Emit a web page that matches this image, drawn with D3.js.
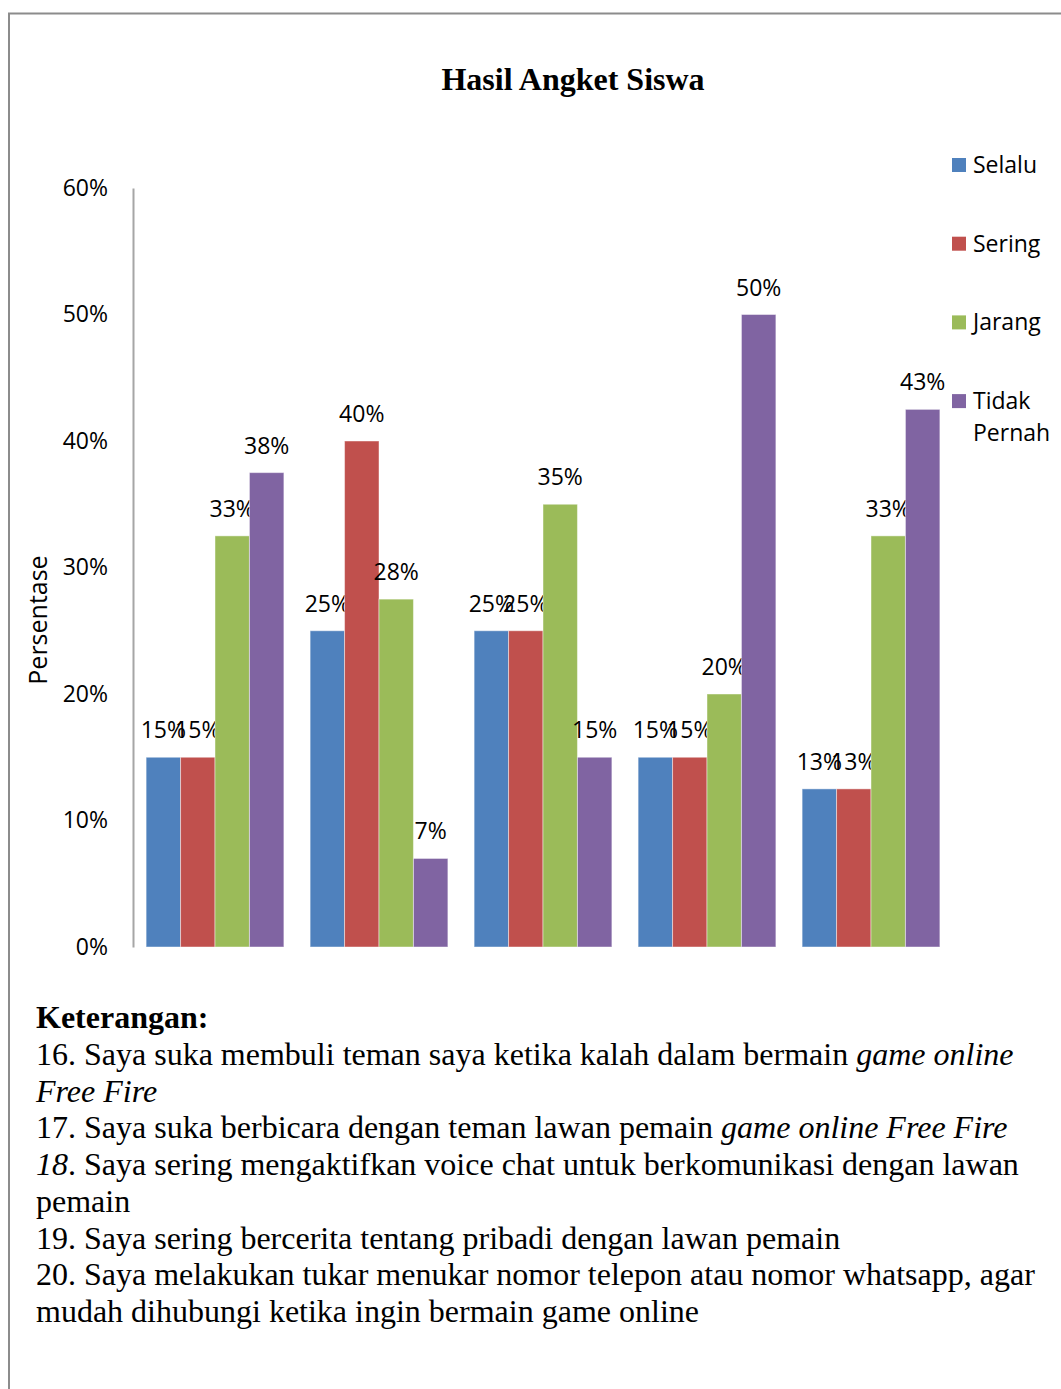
<!DOCTYPE html>
<html>
<head>
<meta charset="utf-8">
<script src="https://cdn.jsdelivr.net/npm/d3@7"></script>
<style>
  html, body { margin: 0; padding: 0; background: #fff; }
  svg { display: block; }
</style>
</head>
<body>
<svg id="chart" width="1061" height="1389"></svg>
<script>
// Questionnaire items (statement numbers) and answer categories
const categories = ["16", "17", "18", "19", "20"];
const seriesNames = ["Selalu", "Sering", "Jarang", "Tidak Pernah"];
const seriesColors = ["#4F81BD", "#C0504D", "#9BBB59", "#8064A2"];

// Percentage of students per answer, one array per answer category
const selalu = [0.15, 0.25, 0.25, 0.15, 0.125];
const sering = [0.15, 0.40, 0.25, 0.15, 0.125];
const jarang = [0.325, 0.275, 0.35, 0.20, 0.325];
const tidakPernah = [0.375, 0.07, 0.15, 0.50, 0.425];
const seriesValues = [selalu, sering, jarang, tidakPernah];

const yTicks = [0, 0.1, 0.2, 0.3, 0.4, 0.5, 0.6];

// Explanation lines below the chart: segments of [text, style]
const notes = [
  [["Keterangan:", "b"]],
  [["16. Saya suka membuli teman saya ketika kalah dalam bermain ", "n"], ["game online", "i"]],
  [["Free Fire", "i"]],
  [["17. Saya suka berbicara dengan teman lawan pemain ", "n"], ["game online Free Fire", "i"]],
  [["18", "i"], [". Saya sering mengaktifkan voice chat untuk berkomunikasi dengan lawan", "n"]],
  [["pemain", "n"]],
  [["19. Saya sering bercerita tentang pribadi dengan lawan pemain", "n"]],
  [["20. Saya melakukan tukar menukar nomor telepon atau nomor whatsapp, agar", "n"]],
  [["mudah dihubungi ketika ingin bermain game online", "n"]]
];

const svg = d3.select("#chart");
const sansFont = "'Open Sans', 'Noto Sans', sans-serif";
const serifFont = "'Liberation Serif', 'Times New Roman', serif";
const sansSize = 23;

// Outer frame (top and left edges)
svg.append("path")
  .attr("d", "M9,1389 V13.5 H1061")
  .attr("fill", "none")
  .attr("stroke", "#8c8c8c")
  .attr("stroke-width", 2);

// Title
svg.append("text")
  .attr("x", 573).attr("y", 90)
  .attr("text-anchor", "middle")
  .attr("font-family", serifFont)
  .attr("font-weight", "bold")
  .attr("font-size", 32)
  .text("Hasil Angket Siswa");

// Scales
const y = d3.scaleLinear().domain([0, 0.6]).range([947, 188]);
const x0 = d3.scaleBand().domain(categories).range([133, 953])
  .paddingInner(0.16).paddingOuter(0.08);
const x1 = d3.scaleBand().domain(d3.range(seriesNames.length))
  .range([0, x0.bandwidth()]).padding(0);

// Y axis
const yAxis = svg.append("g")
  .attr("transform", "translate(133,0)")
  .call(d3.axisLeft(y).tickValues(yTicks).tickFormat(d3.format(".0%")).tickSize(0).tickPadding(25));
yAxis.select(".domain").attr("stroke", "#a6a6a6").attr("stroke-width", 2);
yAxis.selectAll("text")
  .attr("font-family", sansFont)
  .attr("font-size", sansSize)
  .attr("fill", "#000");

// Y axis title
svg.append("text")
  .attr("transform", "translate(47,620) rotate(-90)")
  .attr("text-anchor", "middle")
  .attr("font-family", sansFont)
  .attr("font-size", 25)
  .text("Persentase");

// Bars
const groups = svg.append("g").selectAll("g")
  .data(categories)
  .join("g")
  .attr("transform", d => `translate(${x0(d)},0)`);

const cells = groups.selectAll("g")
  .data((d, ci) => seriesValues.map((vals, si) => ({ si, v: vals[ci] })))
  .join("g");

cells.append("rect")
  .attr("x", d => x1(d.si))
  .attr("y", d => y(d.v))
  .attr("width", x1.bandwidth())
  .attr("height", d => y(0) - y(d.v))
  .attr("fill", d => seriesColors[d.si])
  .attr("stroke", "#ffffff")
  .attr("stroke-opacity", 0.45)
  .attr("stroke-width", 1);

// Value labels
cells.append("text")
  .attr("x", d => x1(d.si) + x1.bandwidth() / 2)
  .attr("y", d => y(d.v) - 19)
  .attr("text-anchor", "middle")
  .attr("font-family", sansFont)
  .attr("font-size", sansSize)
  .attr("fill", "#000")
  .text(d => d3.format(".0%")(d.v));

// Legend
const legend = svg.append("g").selectAll("g")
  .data(seriesNames)
  .join("g")
  .attr("transform", (d, i) => `translate(952,${165 + i * 78.7})`);
legend.append("rect")
  .attr("x", 0).attr("y", -7)
  .attr("width", 14).attr("height", 14)
  .attr("fill", (d, i) => seriesColors[i]);
legend.append("text")
  .attr("font-family", sansFont)
  .attr("font-size", sansSize)
  .selectAll("tspan")
  .data(d => d.split(" "))
  .join("tspan")
  .attr("x", 21)
  .attr("y", (d, i) => 8 + i * 32)
  .text(d => d);

// Explanation block
const noteText = svg.append("g").selectAll("text")
  .data(notes)
  .join("text")
  .attr("x", 36)
  .attr("y", (d, i) => 1028 + i * 36.75)
  .attr("font-family", serifFont)
  .attr("font-size", 32)
  .attr("fill", "#000");
noteText.selectAll("tspan")
  .data(d => d)
  .join("tspan")
  .attr("font-weight", d => d[1] === "b" ? "bold" : null)
  .attr("font-style", d => d[1] === "i" ? "italic" : null)
  .text(d => d[0]);
</script>
</body>
</html>
